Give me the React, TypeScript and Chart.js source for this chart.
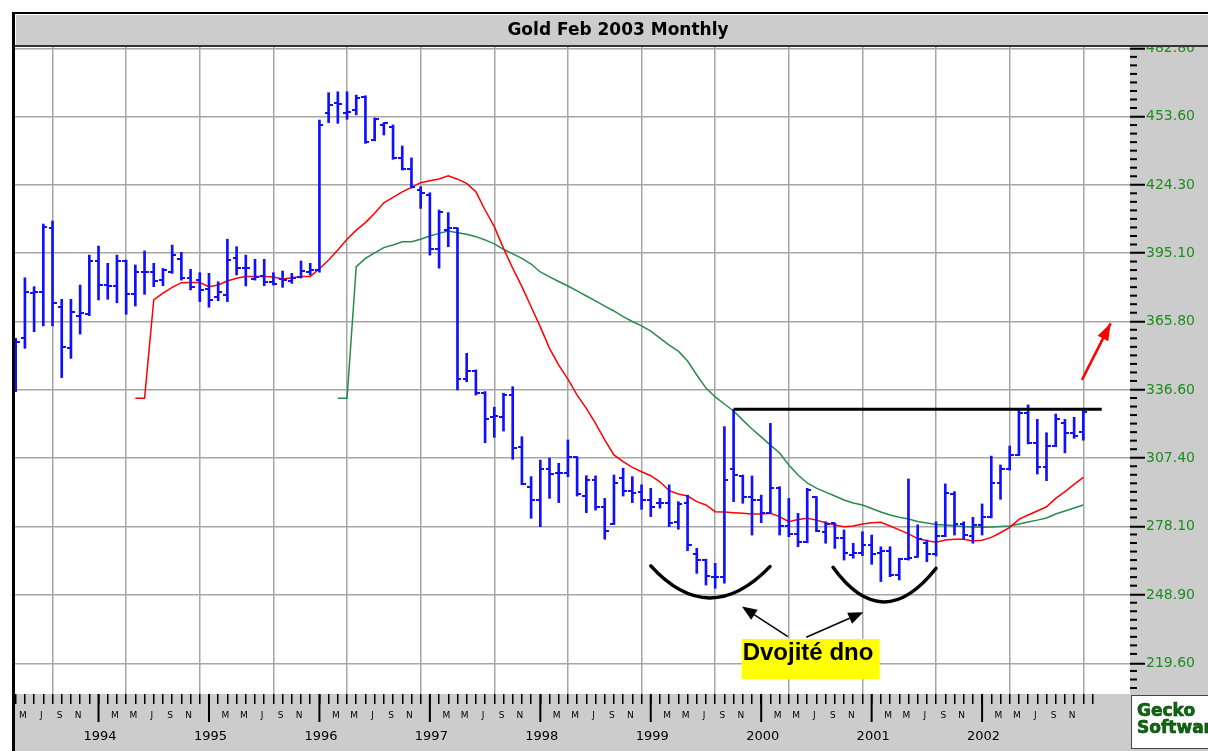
import React, { useEffect, useRef } from 'react';
import { Chart, registerables } from 'chart.js';

Chart.register(...registerables);

// ---------- data ----------
const TITLE = 'Gold Feb 2003 Monthly';
const FIRST_MONTH = 3; // first bar = April 1993 (0 = Jan)

const OPEN = [
  337.4, 359.0, 378.0, 378.6, 405.8, 372.2, 354.7, 368.4, 369.0, 391.8,
  381.5, 381.2, 391.8, 377.7, 387.2, 386.9, 383.6, 387.2, 392.5, 384.4,
  383.6, 379.7, 376.5, 377.2, 392.9, 388.9, 384.0, 385.4, 382.7, 384.1,
  383.2, 384.8, 387.2, 388.0, 455.1, 459.4, 455.1, 456.4, 462.1, 443.6,
  450.0, 449.1, 436.0, 431.0, 422.2, 420.0, 396.8, 405.0, 405.8, 341.2,
  344.8, 335.2, 325.2, 325.2, 334.4, 312.3, 294.9, 289.5, 302.6, 300.9,
  300.9, 307.8, 291.2, 298.1, 286.4, 279.2, 298.8, 293.4, 293.1, 289.5,
  288.1, 288.1, 280.1, 288.1, 266.4, 263.8, 256.7, 256.4, 302.6, 299.8,
  290.7, 289.5, 284.1, 294.5, 278.5, 275.0, 271.7, 290.9, 276.0, 279.5,
  273.1, 266.0, 266.7, 270.3, 267.0, 267.7, 257.4, 264.1, 265.2, 271.0,
  266.4, 274.1, 291.9, 279.2, 274.2, 278.8, 282.1, 296.7, 302.6, 308.8,
  326.9, 313.8, 303.5, 312.6, 322.6, 318.3, 318.7,
];
const HIGH = [
  358.7, 384.6, 380.8, 407.6, 408.9, 375.4, 375.4, 381.5, 394.3, 398.2,
  390.8, 394.3, 392.2, 390.1, 396.1, 390.8, 388.6, 398.6, 395.5, 388.2,
  386.8, 386.5, 382.9, 401.1, 397.9, 394.3, 392.5, 392.5, 386.8, 387.5,
  386.5, 391.8, 390.8, 452.1, 463.8, 464.2, 464.2, 462.8, 462.5, 453.0,
  451.0, 450.0, 441.0, 435.9, 423.6, 421.0, 413.6, 412.5, 406.0, 352.3,
  345.2, 335.9, 329.2, 335.2, 338.0, 316.6, 299.5, 306.6, 307.4, 305.2,
  315.2, 308.0, 299.9, 299.8, 290.2, 300.2, 303.1, 299.5, 296.0, 294.5,
  290.2, 296.0, 288.8, 291.6, 268.8, 264.2, 262.4, 320.9, 328.3, 300.2,
  299.8, 291.6, 322.3, 295.2, 290.2, 283.8, 294.5, 291.0, 280.2, 279.6,
  276.7, 271.0, 275.9, 274.5, 269.5, 269.5, 264.6, 298.5, 278.9, 272.4,
  280.2, 296.4, 293.1, 280.2, 282.1, 287.8, 308.3, 304.5, 312.6, 328.3,
  330.2, 324.0, 318.3, 326.3, 324.0, 324.9, 328.3,
];
const LOW = [
  335.9, 354.4, 361.5, 364.0, 364.0, 341.9, 350.1, 360.5, 368.4, 375.1,
  375.4, 373.9, 369.0, 372.5, 377.5, 380.8, 381.2, 386.5, 383.6, 379.4,
  374.4, 372.0, 374.8, 374.4, 385.8, 381.1, 383.6, 381.2, 381.5, 380.5,
  382.2, 384.5, 385.8, 387.0, 451.0, 450.7, 452.4, 454.3, 442.1, 443.2,
  445.7, 435.3, 430.7, 423.0, 414.3, 394.3, 388.7, 397.9, 336.6, 340.1,
  334.4, 314.0, 316.3, 319.0, 306.9, 296.0, 281.7, 278.1, 290.2, 288.4,
  299.5, 291.2, 284.1, 285.2, 272.7, 279.0, 291.2, 288.4, 285.5, 282.4,
  286.0, 278.1, 277.0, 267.8, 258.1, 253.1, 251.7, 253.9, 288.8, 288.1,
  274.5, 279.8, 283.8, 274.5, 273.8, 269.5, 271.2, 276.0, 271.0, 268.8,
  263.8, 264.6, 265.7, 262.0, 254.6, 256.7, 255.3, 263.8, 265.0, 263.1,
  265.5, 273.8, 274.5, 272.7, 271.0, 274.5, 281.8, 289.8, 302.3, 308.5,
  313.5, 300.6, 297.8, 312.3, 309.7, 315.9, 315.1,
];
const CLOSE = [
  357.0, 378.6, 378.6, 406.5, 373.9, 355.1, 369.8, 369.4, 391.8, 381.5,
  381.2, 391.8, 377.7, 386.9, 387.0, 383.2, 387.9, 394.3, 384.4, 380.5,
  379.4, 375.1, 378.4, 392.2, 388.6, 388.6, 385.1, 382.9, 381.9, 383.6,
  384.4, 387.5, 387.9, 450.0, 458.5, 459.0, 455.7, 461.4, 442.8, 452.5,
  450.7, 435.7, 431.0, 423.3, 421.0, 397.0, 412.9, 405.8, 341.2, 344.8,
  335.2, 324.0, 325.5, 334.4, 311.6, 296.4, 289.5, 302.6, 300.6, 301.2,
  307.8, 292.1, 298.1, 286.4, 276.4, 296.7, 293.5, 292.4, 289.5, 286.4,
  288.3, 279.8, 287.8, 270.3, 263.8, 257.0, 256.4, 297.9, 300.2, 290.7,
  289.5, 284.1, 294.5, 278.4, 275.0, 271.7, 293.8, 276.4, 279.2, 273.1,
  266.7, 266.7, 270.3, 266.4, 267.8, 257.4, 264.1, 264.6, 273.0, 266.4,
  274.1, 292.4, 279.2, 274.5, 278.8, 282.4, 296.7, 302.6, 308.8, 326.9,
  313.8, 303.5, 312.6, 324.0, 318.3, 316.9, 327.0,
];

// moving averages (first value belongs to bar index *_START)
const MA_RED_START = 13;
const MA_RED = [
  333.0, 333.0, 375.1, 378.0, 380.5, 382.5, 382.6, 382.6, 380.8, 381.5,
  383.2, 384.4, 385.1, 385.1, 385.1, 384.9, 384.1, 384.6, 385.1, 385.1,
  388.5, 392.2, 396.5, 401.1, 405.0, 408.2, 412.2, 416.7, 419.0, 421.4,
  423.3, 425.3, 426.1, 426.9, 428.2, 426.8, 425.0, 421.4, 413.6, 406.5,
  397.2, 388.7, 380.8, 372.2, 363.6, 354.4, 347.2, 341.2, 334.4, 328.7,
  322.3, 315.2, 308.8, 305.9, 303.5, 301.6, 299.9, 297.3, 293.5, 292.1,
  291.2, 288.8, 287.4, 284.5, 284.4, 284.1, 283.8, 283.5, 283.5, 283.8,
  282.4, 280.2, 281.2, 281.7, 280.9, 279.8, 278.8, 278.1, 278.4, 279.2,
  279.8, 280.0, 278.4, 276.7, 275.0, 273.0, 272.1, 271.4, 272.4, 272.7,
  272.7, 272.0, 272.3, 273.5, 275.5, 277.8, 281.2, 283.1, 284.8, 286.6,
  290.2, 293.1, 296.2, 299.2,
];
const MA_GREEN_START = 35;
const MA_GREEN = [
  333.0, 333.0, 389.4, 392.9, 395.3, 397.5, 398.6, 400.0, 400.0, 401.1,
  402.5, 403.6, 404.6, 403.9, 403.2, 402.2, 400.8, 399.1, 396.8, 394.8,
  392.9, 390.5, 387.1, 385.0, 383.0, 381.1, 379.0, 376.8, 374.7, 372.5,
  370.4, 368.0, 365.9, 364.0, 361.8, 358.8, 355.8, 353.2, 349.0, 343.0,
  337.4, 333.6, 330.6, 327.6, 323.7, 319.9, 316.5, 313.0, 309.6, 304.5,
  300.2, 296.8, 294.6, 292.9, 291.2, 289.5, 288.2, 287.4, 285.9, 284.4,
  283.1, 282.1, 281.4, 280.3, 279.7, 279.0, 278.8, 278.5, 278.2, 278.0,
  277.8, 278.0, 278.2, 278.4, 279.2, 280.1, 280.9, 281.8, 283.5, 284.8,
  286.1, 287.4,
];

const Y_TICKS = [482.8, 453.6, 424.3, 395.1, 365.8, 336.6, 307.4, 278.1, 248.9, 219.6];
const MONTH_LETTERS = ['', '', 'M', '', 'M', '', 'J', '', 'S', '', 'N', ''];
const YEAR_LABELS = ['1994', '1995', '1996', '1997', '1998', '1999', '2000', '2001', '2002'];

// drawn annotations (data coordinates: [bar index, price])
const RESISTANCE = [{ x: 78, y: 328.3 }, { x: 118, y: 328.3 }];
const TARGET_ARROW = [{ x: 115.85, y: 340.9 }, { x: 118.97, y: 365.1 }];
const BOTTOM_ARCS = [
  { left: [69.0, 261.3], bottom: [75.4, 247.6], right: [81.95, 261.0] },
  { left: [88.8, 260.7], bottom: [94.3, 245.9], right: [100.0, 260.3] },
];
const POINTER_ARROWS = [
  { from: [83.9, 231.0], to: [78.9, 243.9] },
  { from: [85.9, 230.8], to: [92.1, 241.5] },
];
const PATTERN_LABEL = 'Dvojité dno';
const PATTERN_LABEL_AT = [78.88, 221.5];
const LOGO = ['Gecko', 'Software'];

// ---------- layout / style ----------
const W = 1208;
const H = 751;
const X_MIN = -0.076;
const X_MAX = 121.07;
const Y_MIN = 206.49;
const Y_MAX = 483.36;
const PANEL = '#cccccc';
const GRID = '#a6a6a6';
const BLUE = '#1010ff';
const NBARS = OPEN.length;

const JAN_INDEX: number[] = [];
for (let i = 0; i < NBARS; i++) if ((FIRST_MONTH + i) % 12 === 0) JAN_INDEX.push(i);

function tickImage(side: 'left' | 'right') {
  const c = document.createElement('canvas');
  c.width = 8;
  c.height = 2;
  const g = c.getContext('2d')!;
  g.fillStyle = BLUE;
  g.fillRect(side === 'left' ? 0 : 4, 0, 4, 2);
  return c;
}

function arrow(ctx: CanvasRenderingContext2D, x1: number, y1: number, x2: number, y2: number,
  len: number, half: number, color: string, width: number, drawShaft = true) {
  const a = Math.atan2(y2 - y1, x2 - x1);
  const bx = x2 - Math.cos(a) * len;
  const by = y2 - Math.sin(a) * len;
  ctx.strokeStyle = color;
  ctx.fillStyle = color;
  ctx.lineWidth = width;
  if (drawShaft) {
    ctx.beginPath();
    ctx.moveTo(x1, y1);
    ctx.lineTo(bx, by);
    ctx.stroke();
  }
  ctx.beginPath();
  ctx.moveTo(x2, y2);
  ctx.lineTo(bx + Math.sin(a) * half, by - Math.cos(a) * half);
  ctx.lineTo(bx - Math.sin(a) * half, by + Math.cos(a) * half);
  ctx.closePath();
  ctx.fill();
}

const decorPlugin = {
  id: 'decor',
  beforeDraw(chart: any) {
    const ctx = chart.ctx;
    const a = chart.chartArea;
    ctx.save();
    ctx.fillStyle = '#ffffff';
    ctx.fillRect(0, 0, W, H);
    ctx.fillStyle = PANEL;
    ctx.fillRect(a.right, a.top, W - a.right, H - a.top);
    ctx.fillRect(a.left, a.bottom, a.right - a.left, H - a.bottom);
    ctx.restore();
  },
  afterDatasetsDraw(chart: any) {
    const ctx = chart.ctx;
    const X = (v: number) => chart.scales.x.getPixelForValue(v);
    const Y = (v: number) => chart.scales.y.getPixelForValue(v);
    ctx.save();
    // double-bottom arcs
    ctx.strokeStyle = '#000';
    ctx.lineWidth = 3.5;
    ctx.lineCap = 'round';
    for (const arc of BOTTOM_ARCS) {
      const lx = X(arc.left[0]), ly = Y(arc.left[1]);
      const bx = X(arc.bottom[0]), by = Y(arc.bottom[1]);
      const rx = X(arc.right[0]), ry = Y(arc.right[1]);
      const cx = 2 * bx - (lx + rx) / 2;
      const cy = 2 * by - (ly + ry) / 2;
      ctx.beginPath();
      ctx.moveTo(lx, ly);
      ctx.quadraticCurveTo(cx, cy, rx, ry);
      ctx.stroke();
    }
    ctx.lineCap = 'butt';
    for (const p of POINTER_ARROWS) {
      arrow(ctx, X(p.from[0]), Y(p.from[1]), X(p.to[0]), Y(p.to[1]), 15, 6, '#000', 1.5);
    }
    // label
    const lx = X(PATTERN_LABEL_AT[0]);
    const ly = Y(PATTERN_LABEL_AT[1]);
    ctx.fillStyle = '#ffff00';
    ctx.fillRect(lx, ly - 20, 138, 40);
    ctx.fillStyle = '#000';
    ctx.font = 'bold 24px "Liberation Sans", Arial, sans-serif';
    ctx.textAlign = 'left';
    ctx.textBaseline = 'alphabetic';
    ctx.fillText(PATTERN_LABEL, lx + 1, ly + 1);
    // red target arrow head
    const t0 = TARGET_ARROW[0], t1 = TARGET_ARROW[1];
    arrow(ctx, X(t0.x), Y(t0.y), X(t1.x), Y(t1.y), 17, 6, '#ff0000', 2.5, false);
    ctx.restore();
  },
  afterDraw(chart: any) {
    const ctx = chart.ctx;
    const a = chart.chartArea;
    const ys = chart.scales.y;
    const xs = chart.scales.x;
    ctx.save();
    // minor y ticks
    ctx.fillStyle = '#000';
    const step = (Y_TICKS[0] - Y_TICKS[1]) / 8;
    for (let k = 1; ; k++) {
      const v = Y_TICKS[0] - k * step;
      if (v < Y_MIN) break;
      if (k % 8 === 0) continue;
      const y = ys.getPixelForValue(v);
      ctx.fillRect(a.right, y - 1, 7, 2);
    }
    // year separators
    for (const i of JAN_INDEX) {
      const x = xs.getPixelForValue(i);
      ctx.fillRect(x - 1, a.bottom, 2, 28);
    }
    // title bar
    ctx.fillStyle = '#000';
    ctx.fillRect(12, 12, W - 12, 2);
    ctx.fillStyle = PANEL;
    ctx.fillRect(15, 14, W - 15, 31);
    ctx.fillStyle = '#ffffff';
    ctx.fillRect(15, 14, W - 15, 1);
    ctx.fillRect(15, 14, 1, 31);
    ctx.fillStyle = '#333333';
    ctx.fillRect(15, 45, W - 15, 2);
    ctx.fillStyle = '#000';
    ctx.fillRect(12, 12, 3, H - 12);
    ctx.font = 'bold 17px "DejaVu Sans", sans-serif';
    ctx.textAlign = 'center';
    ctx.textBaseline = 'middle';
    ctx.fillText(TITLE, 618, 31);
    // logo box
    ctx.fillStyle = '#ffffff';
    ctx.fillRect(a.right + 1, a.bottom + 1, W - a.right, 54);
    ctx.strokeStyle = '#444';
    ctx.lineWidth = 1;
    ctx.strokeRect(a.right + 1.5, a.bottom + 1.5, W, 53);
    ctx.font = 'bold 17px "DejaVu Sans", sans-serif';
    ctx.textAlign = 'left';
    ctx.textBaseline = 'alphabetic';
    ctx.fillStyle = '#0d6b0d';
    ctx.strokeStyle = '#063a06';
    ctx.lineWidth = 0.6;
    ctx.fillText(LOGO[0], a.right + 7, a.bottom + 22);
    ctx.strokeText(LOGO[0], a.right + 7, a.bottom + 22);
    ctx.fillText(LOGO[1], a.right + 7, a.bottom + 39);
    ctx.strokeText(LOGO[1], a.right + 7, a.bottom + 39);
    ctx.restore();
  },
};

export default function App() {
  const ref = useRef<HTMLCanvasElement>(null);
  useEffect(() => {
    const canvas = ref.current!;
    const openImg = tickImage('left');
    const closeImg = tickImage('right');
    const idx = OPEN.map((_, i) => i);
    const chart = new Chart(canvas, {
      type: 'line',
      data: {
        datasets: [
          {
            type: 'bar',
            data: idx.map((i) => ({ x: i, y: [LOW[i], HIGH[i]] })) as any,
            backgroundColor: BLUE,
            borderWidth: 0,
            barThickness: 2,
            order: 1,
          } as any,
          {
            type: 'scatter',
            data: idx.map((i) => ({ x: i, y: OPEN[i] })),
            pointStyle: openImg as any,
            pointRadius: 3,
            pointHoverRadius: 3,
            showLine: false,
            order: 1,
          } as any,
          {
            type: 'scatter',
            data: idx.map((i) => ({ x: i, y: CLOSE[i] })),
            pointStyle: closeImg as any,
            pointRadius: 3,
            pointHoverRadius: 3,
            showLine: false,
            order: 1,
          } as any,
          {
            type: 'line',
            data: MA_RED.map((v, k) => ({ x: k + MA_RED_START, y: v })),
            borderColor: '#ff0000',
            borderWidth: 1.5,
            pointRadius: 0,
            tension: 0,
            order: 2,
          },
          {
            type: 'line',
            data: MA_GREEN.map((v, k) => ({ x: k + MA_GREEN_START, y: v })),
            borderColor: '#2a8a4e',
            borderWidth: 1.5,
            pointRadius: 0,
            tension: 0,
            order: 2,
          },
          {
            type: 'line',
            data: RESISTANCE,
            borderColor: '#000000',
            borderWidth: 3,
            pointRadius: 0,
            order: 0,
          },
          {
            type: 'line',
            data: TARGET_ARROW,
            borderColor: '#ff0000',
            borderWidth: 2.5,
            pointRadius: 0,
            order: 0,
          },
        ],
      },
      plugins: [decorPlugin],
      options: {
        animation: false,
        responsive: false,
        devicePixelRatio: 1,
        events: [],
        layout: { padding: { left: 15, top: 47, right: 0, bottom: 0 } },
        plugins: { legend: { display: false }, tooltip: { enabled: false }, title: { display: false } },
        scales: {
          x: {
            type: 'linear',
            position: 'bottom',
            min: X_MIN,
            max: X_MAX,
            offset: false,
            weight: 0,
            afterBuildTicks: (s: any) => {
              const t = [];
              for (let i = 0; i <= NBARS; i++) t.push({ value: i });
              s.ticks = t;
            },
            afterFit: (s: any) => { s.height = 34; },
            grid: {
              offset: false,
              drawOnChartArea: true,
              drawTicks: true,
              tickLength: 10,
              color: (c: any) => (c.tick && ((c.tick.value - 4) % 8 === 0) ? GRID : 'rgba(0,0,0,0)'),
              lineWidth: 1.5,
              tickColor: '#000',
              tickWidth: 1.5,
            },
            border: { display: false },
            ticks: {
              autoSkip: false,
              maxRotation: 0,
              minRotation: 0,
              padding: 6,
              labelOffset: -2,
              color: '#000',
              font: { family: '"DejaVu Sans", sans-serif', size: 9 },
              callback: (v: any) => MONTH_LETTERS[(FIRST_MONTH + Number(v)) % 12],
            },
          } as any,
          x2: {
            type: 'linear',
            position: 'bottom',
            min: X_MIN,
            max: X_MAX,
            offset: false,
            weight: 1,
            afterBuildTicks: (s: any) => {
              s.ticks = JAN_INDEX.map((i) => ({ value: i }));
            },
            afterFit: (s: any) => { s.height = 23; },
            grid: { display: false, drawTicks: false },
            border: { display: false },
            ticks: {
              autoSkip: false,
              maxRotation: 0,
              minRotation: 0,
              padding: 1,
              labelOffset: 1.5,
              color: '#000',
              font: { family: '"DejaVu Sans", sans-serif', size: 13 },
              callback: (_v: any, k: number) => YEAR_LABELS[k],
            },
          } as any,
          y: {
            type: 'linear',
            position: 'right',
            min: Y_MIN,
            max: Y_MAX,
            beginAtZero: false,
            afterBuildTicks: (s: any) => {
              s.ticks = Y_TICKS.map((v) => ({ value: v }));
            },
            afterFit: (s: any) => { s.width = 78; },
            grid: {
              color: GRID,
              lineWidth: 1.5,
              drawTicks: true,
              tickLength: 15,
              tickColor: '#000',
              tickWidth: 2,
            },
            border: { display: false },
            ticks: {
              autoSkip: false,
              padding: 1,
              color: '#1e8c1e',
              font: { family: '"DejaVu Sans", sans-serif', size: 14 },
              callback: (v: any) => Number(v).toFixed(2),
            },
          } as any,
        },
      },
    });
    return () => chart.destroy();
  }, []);
  return (
    <div style={{ position: 'fixed', left: 0, top: 0, width: W, height: H, background: '#fff' }}>
      <canvas ref={ref} width={W} height={H} style={{ display: 'block', width: W, height: H }} />
    </div>
  );
}
